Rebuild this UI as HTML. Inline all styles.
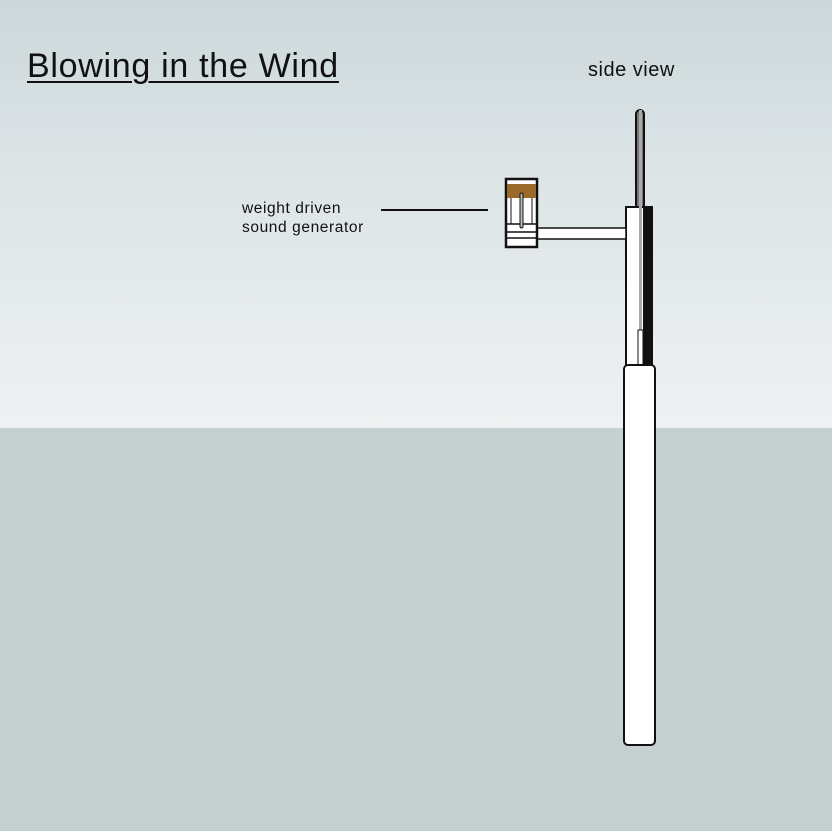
<!DOCTYPE html>
<html><head><style>
body{margin:0}
#c{position:relative;width:832px;height:831px;overflow:hidden;background:linear-gradient(#ccd8db 0px,#dfe6e8 200px,#eef1f1 428px);font-family:"Liberation Sans",sans-serif}
#g{position:absolute;left:0;top:428px;width:832px;height:403px;background:#c5d0d1}
.t{position:absolute;white-space:nowrap;color:#111}
</style></head><body><div id="c">
<div id="g"></div>
<div class="t" style="left:27px;top:47px;font-size:34px;text-decoration:underline;text-decoration-thickness:2px;text-underline-offset:4px;letter-spacing:0.7px">Blowing in the Wind</div>
<div class="t" style="left:588px;top:59px;font-size:20px;letter-spacing:0.5px">side view</div>
<div class="t" style="left:242px;top:199px;font-size:15.5px;line-height:19px;letter-spacing:0.6px">weight driven<br>sound generator</div>
<svg width="832" height="831" style="position:absolute;left:0;top:0">
<line x1="381" y1="210" x2="488" y2="210" stroke="#111" stroke-width="2"/>
<rect x="636" y="110" width="8" height="225" rx="4" fill="#777" stroke="#111" stroke-width="2"/>
<rect x="626" y="207" width="26" height="160" fill="#fff" stroke="#111" stroke-width="2"/>
<rect x="643" y="208" width="8" height="158" fill="#111"/>
<rect x="639" y="110" width="3" height="220" fill="#aaa"/>
<rect x="638" y="330" width="5" height="36" fill="#fff" stroke="#111" stroke-width="1"/>
<rect x="537" y="228" width="89" height="11" fill="#fff" stroke="#111" stroke-width="1.5"/>
<rect x="506" y="179" width="31" height="68" fill="#fff" stroke="#111" stroke-width="2.5"/>
<rect x="507" y="184" width="29" height="14" fill="#9a6a2a"/>
<line x1="506" y1="224" x2="537" y2="224" stroke="#111" stroke-width="1.5"/>
<line x1="506" y1="232" x2="537" y2="232" stroke="#111" stroke-width="1.5"/>
<line x1="506" y1="238" x2="537" y2="238" stroke="#111" stroke-width="1.5"/>
<line x1="511" y1="198" x2="511" y2="224" stroke="#111" stroke-width="1"/>
<line x1="532" y1="198" x2="532" y2="224" stroke="#111" stroke-width="1"/>
<rect x="520" y="193" width="3" height="35" rx="1.5" fill="#bbb" stroke="#111" stroke-width="1"/>
<rect x="624" y="365" width="31" height="380" rx="4" fill="#fff" stroke="#111" stroke-width="2"/>
</svg>
</div></body></html>
